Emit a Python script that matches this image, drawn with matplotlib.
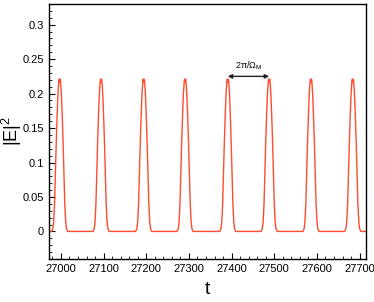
import numpy as np
import matplotlib.pyplot as plt
from matplotlib.ticker import MultipleLocator

plt.rcParams['font.family'] = ['Liberation Sans', 'DejaVu Sans']
plt.rcParams['mathtext.fontset'] = 'custom'
plt.rcParams['mathtext.rm'] = 'Liberation Sans'

# times of the pulse maxima
peak_times = [26997, 27094, 27194, 27291, 27391, 27488, 27586, 27684]

# shape of one pulse: offset from its peak (t) and |E|^2 value
pulse_offset = [-19, -16, -14, -12, -10, -8, -6, -4, -2, -1, 0,
                1, 2, 4, 6, 8, 10, 12, 14, 16, 19]
pulse_value = [0.0, 0.004, 0.015, 0.04, 0.085, 0.13, 0.168, 0.2, 0.218, 0.221, 0.216,
               0.221, 0.218, 0.2, 0.168, 0.13, 0.085, 0.04, 0.015, 0.004, 0.0]

t_start, t_end = 26960, 27720

# build the trace: flat zero between pulses
t = [t_start]
y = [0.0]
for p in peak_times:
    for dt, v in zip(pulse_offset, pulse_value):
        t.append(p + dt)
        y.append(v)
t.append(t_end)
y.append(0.0)

fig = plt.figure(figsize=(3.74, 3.02), dpi=100)
ax = fig.add_axes([49 / 374, 1 - 259 / 302, 317 / 374, 255 / 302])

ax.plot(t, y, '-', color='#ff4b2e', lw=1.0)

ax.set_xlim(26972, 27715)
ax.set_ylim(-0.04, 0.33)
ax.xaxis.set_major_locator(MultipleLocator(100))
ax.xaxis.set_minor_locator(MultipleLocator(20))
ax.yaxis.set_major_locator(MultipleLocator(0.05))
ax.yaxis.set_minor_locator(MultipleLocator(0.01))
ax.yaxis.set_major_formatter(plt.FuncFormatter(lambda v, pos: '%g' % round(v, 3)))
ax.tick_params(which='both', direction='in', top=False, right=False, labelsize=8)
ax.tick_params(which='major', length=4, width=0.8)
ax.tick_params(which='minor', length=2, width=0.6)
for s in ax.spines.values():
    s.set_linewidth(1.0)

ax.set_xlabel('t', fontsize=14, labelpad=5)
ax.set_ylabel('|E|$^\\mathrm{2}$', fontsize=13)
ax.yaxis.set_label_coords(-0.08, 0.5)

# period annotation between two neighbouring peaks
ax.annotate('', xy=(peak_times[4], 0.225), xytext=(peak_times[5], 0.225),
            arrowprops=dict(arrowstyle='<|-|>', color='#222222', lw=1.0,
                            mutation_scale=6, shrinkA=0, shrinkB=0))
ax.text((peak_times[4] + peak_times[5]) / 2, 0.231, '2π/Ω$_\\mathrm{M}$',
        ha='center', va='bottom', fontsize=6.5)

plt.savefig('out.png', dpi=100)
